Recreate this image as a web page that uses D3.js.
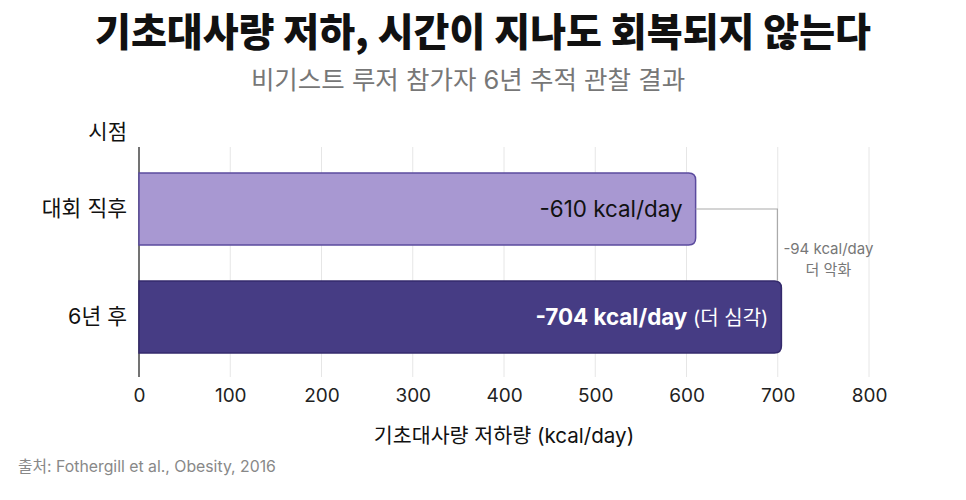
<!DOCTYPE html>
<html>
<head>
<meta charset="utf-8">
<script src="https://cdn.jsdelivr.net/npm/d3@7"></script>
<style>
  body { margin: 0; background: #fff; }
  text { font-family: Inter, "Noto Sans CJK KR", sans-serif; }
</style>
</head>
<body>
<div id="chart"></div>
<script>
// data
const categories = ["대회 직후", "6년 후"];
const values = [610, 704];
const barLabels = ["-610 kcal/day", "-704 kcal/day"];
const barNotes = ["", " (더 심각)"];
const xTicks = [0, 100, 200, 300, 400, 500, 600, 700, 800];
const diffLabel = ["-94 kcal/day", "더 악화"];

const W = 966, H = 500;
const plot = { left: 139, right: 869, top: 147, bottom: 377 };
const font = "Inter, 'Noto Sans CJK KR', sans-serif";

const svg = d3.select("#chart")
  .append("svg")
  .attr("width", W)
  .attr("height", H);

const x = d3.scaleLinear()
  .domain([0, 800])
  .range([plot.left, plot.right]);

const y = d3.scaleBand()
  .domain(categories)
  .range([137, 389])
  .paddingInner(1 / 3)
  .paddingOuter(1 / 3);

// title + subtitle
svg.append("text")
  .attr("x", 483)
  .attr("y", 46)
  .attr("text-anchor", "middle")
  .style("font-family", "'Noto Sans CJK KR', sans-serif")
  .style("font-size", "39px")
  .style("font-weight", 900)
  .attr("fill", "#111")
  .text("기초대사량 저하, 시간이 지나도 회복되지 않는다");

svg.append("text")
  .attr("x", 468)
  .attr("y", 89)
  .attr("text-anchor", "middle")
  .style("font-size", "25.5px")
  .attr("fill", "#777")
  .text("비기스트 루저 참가자 6년 추적 관찰 결과");

// grid
svg.append("g")
  .selectAll("line")
  .data(xTicks.slice(1))
  .enter()
  .append("line")
  .attr("x1", d => x(d))
  .attr("x2", d => x(d))
  .attr("y1", plot.top)
  .attr("y2", plot.bottom)
  .attr("stroke", "#e6e6e6")
  .attr("stroke-width", 1);

// x axis (labels only)
const xAxis = svg.append("g")
  .attr("transform", `translate(0,${plot.bottom})`)
  .call(d3.axisBottom(x).tickValues(xTicks).tickSize(0).tickPadding(12));
xAxis.select(".domain").remove();
xAxis.selectAll("text")
  .style("font-family", font)
  .style("font-size", "19px")
  .attr("fill", "#222");

// y axis
const yAxis = svg.append("g")
  .attr("transform", `translate(${plot.left},0)`)
  .call(d3.axisLeft(y).tickSize(0).tickPadding(12));
yAxis.select(".domain").remove();
yAxis.selectAll("text")
  .style("font-family", font)
  .style("font-size", "21.5px")
  .attr("fill", "#111");

svg.append("line")
  .attr("x1", plot.left)
  .attr("x2", plot.left)
  .attr("y1", plot.top)
  .attr("y2", plot.bottom)
  .attr("stroke", "#444")
  .attr("stroke-width", 1.5);

svg.append("text")
  .attr("x", 127)
  .attr("y", 139)
  .attr("text-anchor", "end")
  .style("font-size", "21px")
  .attr("fill", "#111")
  .text("시점");

// bars, right corners rounded
const fills = ["#a898d2", "#463c84"];
const strokes = ["#5b4b9e", "#342a6c"];
function barPath(x0, x1, y0, h, r) {
  return `M${x0},${y0}H${x1 - r}Q${x1},${y0} ${x1},${y0 + r}` +
    `V${y0 + h - r}Q${x1},${y0 + h} ${x1 - r},${y0 + h}H${x0}Z`;
}

const data = categories.map((c, i) => ({ c, v: values[i], i }));

svg.selectAll(".bar")
  .data(data)
  .enter()
  .append("path")
  .attr("class", "bar")
  .attr("d", d => barPath(x(0), x(d.v), y(d.c), y.bandwidth(), 7))
  .attr("fill", d => fills[d.i])
  .attr("stroke", d => strokes[d.i])
  .attr("stroke-width", 1.5);

// bar labels
const lab = svg.selectAll(".bar-label")
  .data(data)
  .enter()
  .append("text")
  .attr("class", "bar-label")
  .attr("x", d => x(d.v) - 13)
  .attr("y", d => y(d.c) + y.bandwidth() / 2 + 8)
  .attr("text-anchor", "end")
  .style("font-size", "22.4px")
  .attr("fill", d => d.i === 1 ? "#fff" : "#111");

lab.append("tspan")
  .style("font-weight", d => d.i === 1 ? 700 : 400)
  .text(d => barLabels[d.i]);
lab.append("tspan")
  .style("font-size", "20px")
  .text(d => barNotes[d.i]);

// difference bracket
const bx = x(values[1]) - 4;
const yA = y(categories[0]) + y.bandwidth() / 2;
const yB = y(categories[1]);
svg.append("path")
  .attr("d", `M${x(values[0])},${yA}H${bx}V${yB}`)
  .attr("fill", "none")
  .attr("stroke", "#aaa")
  .attr("stroke-width", 1.2);

svg.selectAll(".diff")
  .data(diffLabel)
  .enter()
  .append("text")
  .attr("class", "diff")
  .attr("x", bx + 51)
  .attr("y", (d, i) => 254 + i * 21)
  .attr("text-anchor", "middle")
  .style("font-size", "15px")
  .attr("fill", "#777")
  .text(d => d);

// axis title + source
svg.append("text")
  .attr("x", (plot.left + plot.right) / 2)
  .attr("y", 443)
  .attr("text-anchor", "middle")
  .style("font-size", "20.6px")
  .attr("fill", "#111")
  .text("기초대사량 저하량 (kcal/day)");

svg.append("text")
  .attr("x", 18)
  .attr("y", 472)
  .style("font-size", "15.8px")
  .attr("fill", "#888")
  .text("출처: Fothergill et al., Obesity, 2016");
</script>
</body>
</html>
